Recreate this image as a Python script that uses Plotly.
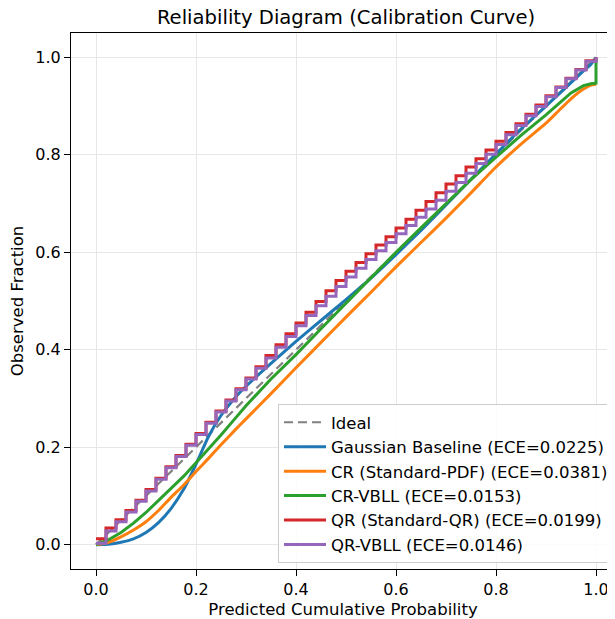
import plotly.graph_objects as go

# ---------------- data ----------------
ideal_x = [0.0, 1.0]
ideal_y = [0.0, 1.0]

smooth_p = [0.0, 0.025, 0.05, 0.075, 0.1, 0.125, 0.15, 0.175, 0.2, 0.225, 0.25, 0.275, 0.3,
            0.35, 0.4, 0.45, 0.5, 0.55, 0.6, 0.65, 0.7, 0.75, 0.8, 0.85, 0.9, 0.925, 0.95,
            0.975, 0.99, 1.0]

gauss_y = [0.0, 0.001, 0.005, 0.012, 0.025, 0.045, 0.074, 0.113, 0.165, 0.222, 0.265, 0.298, 0.325,
           0.372, 0.417, 0.46, 0.503, 0.547, 0.595, 0.645, 0.697, 0.75, 0.802, 0.853, 0.9, 0.924, 0.948,
           0.972, 0.986, 1.0]

cr_pdf_y = [0.0, 0.005, 0.016, 0.03, 0.047, 0.07, 0.097, 0.122, 0.15, 0.177, 0.205, 0.232, 0.258,
            0.31, 0.363, 0.415, 0.467, 0.518, 0.57, 0.62, 0.67, 0.722, 0.775, 0.822, 0.865, 0.89, 0.915,
            0.935, 0.943, 0.945]

cr_vbll_p = [0.0, 0.025, 0.05, 0.075, 0.1, 0.125, 0.15, 0.175, 0.2, 0.225, 0.25, 0.275, 0.3,
             0.35, 0.4, 0.45, 0.5, 0.55, 0.6, 0.65, 0.7, 0.75, 0.8, 0.85, 0.9, 0.925, 0.95,
             0.975, 0.99, 1.0, 1.0]
cr_vbll_y = [0.0, 0.01, 0.025, 0.044, 0.066, 0.09, 0.115, 0.14, 0.168, 0.196, 0.225, 0.255, 0.285,
             0.34, 0.39, 0.443, 0.496, 0.548, 0.6, 0.65, 0.7, 0.749, 0.795, 0.84, 0.882, 0.905, 0.927,
             0.942, 0.946, 0.947, 1.0]

step_p = [round(0.02 * i, 2) for i in range(51)]

qr_std_y = [0.012, 0.034, 0.051, 0.070, 0.091, 0.113, 0.136, 0.160, 0.183, 0.206,
            0.228, 0.251, 0.274, 0.297, 0.320, 0.342, 0.365, 0.388, 0.410, 0.433,
            0.455, 0.477, 0.499, 0.521, 0.542, 0.561, 0.579, 0.597, 0.615, 0.632,
            0.650, 0.668, 0.686, 0.704, 0.722, 0.740, 0.757, 0.775, 0.792, 0.810,
            0.828, 0.846, 0.864, 0.883, 0.902, 0.921, 0.939, 0.957, 0.975, 0.993,
            1.000]

qr_vbll_y = [0.003, 0.028, 0.047, 0.067, 0.089, 0.110, 0.134, 0.158, 0.181, 0.204,
             0.226, 0.249, 0.272, 0.295, 0.318, 0.340, 0.362, 0.383, 0.405, 0.427,
             0.449, 0.470, 0.490, 0.510, 0.530, 0.549, 0.567, 0.585, 0.603, 0.620,
             0.638, 0.655, 0.672, 0.689, 0.707, 0.725, 0.743, 0.762, 0.782, 0.801,
             0.821, 0.841, 0.860, 0.880, 0.899, 0.919, 0.938, 0.956, 0.974, 0.992,
             1.000]

names = ["Ideal",
         "Gaussian Baseline (ECE=0.0225)",
         "CR (Standard-PDF) (ECE=0.0381)",
         "CR-VBLL (ECE=0.0153)",
         "QR (Standard-QR) (ECE=0.0199)",
         "QR-VBLL (ECE=0.0146)"]
colors = ["#808080", "#1f77b4", "#ff7f0e", "#2ca02c", "#d62728", "#9467bd"]

x_ticks = [0.0, 0.2, 0.4, 0.6, 0.8, 1.0]
y_ticks = [0.0, 0.2, 0.4, 0.6, 0.8, 1.0]

# ---------------- figure ----------------
fig = go.Figure()
fig.add_trace(go.Scatter(x=ideal_x, y=ideal_y, mode="lines", name=names[0],
                         line=dict(color=colors[0], width=2.2, dash="9px,5px")))
fig.add_trace(go.Scatter(x=smooth_p, y=gauss_y, mode="lines", name=names[1],
                         line=dict(color=colors[1], width=3, shape="spline", smoothing=0.6)))
fig.add_trace(go.Scatter(x=smooth_p, y=cr_pdf_y, mode="lines", name=names[2],
                         line=dict(color=colors[2], width=3, shape="spline", smoothing=0.6)))
fig.add_trace(go.Scatter(x=cr_vbll_p, y=cr_vbll_y, mode="lines", name=names[3],
                         line=dict(color=colors[3], width=3)))
fig.add_trace(go.Scatter(x=step_p, y=qr_std_y, mode="lines", name=names[4],
                         line=dict(color=colors[4], width=3, shape="hv")))
fig.add_trace(go.Scatter(x=step_p, y=qr_vbll_y, mode="lines", name=names[5],
                         line=dict(color=colors[5], width=3, shape="hv")))

# the page body has an 8px margin; size the figure to fit the 615x619 window
OFF = 8
W, H = 615 - OFF, 619 - OFF
L, R, T, B = 71 - OFF, 0, 33 - OFF, 50

fig.update_layout(
    width=W, height=H,
    margin=dict(l=L, r=R, t=T, b=B, autoexpand=False),
    paper_bgcolor="white", plot_bgcolor="white",
    font=dict(family="DejaVu Sans", size=16.5, color="black"),
    title=dict(text="Reliability Diagram (Calibration Curve)",
               x=(346 - OFF) / W, xref="container", xanchor="center",
               y=1 - (17 - OFF) / H, yref="container", yanchor="middle",
               font=dict(size=19.6, color="black")),
    showlegend=True,
    legend=dict(x=(614 - 71) / 544, y=(569 - 563) / 536, xanchor="right", yanchor="bottom",
                bgcolor="rgba(255,255,255,0.85)", bordercolor="#cccccc", borderwidth=1,
                font=dict(size=16.5), itemwidth=42, tracegroupgap=0),
)
fig.update_xaxes(range=[-0.05, 1.038], tickvals=x_ticks, tickformat=".1f",
                 showgrid=True, gridcolor="#e7e7e7", gridwidth=1, zeroline=False,
                 showline=True, linecolor="black", linewidth=1, mirror=True,
                 ticks="outside", ticklen=6, tickcolor="black", tickwidth=1,
                 tickfont=dict(size=16),
                 title=dict(text="Predicted Cumulative Probability", font=dict(size=16.5), standoff=5))
fig.update_yaxes(range=[-0.05, 1.05], tickvals=y_ticks, tickformat=".1f",
                 showgrid=True, gridcolor="#e7e7e7", gridwidth=1, zeroline=False,
                 showline=True, linecolor="black", linewidth=1, mirror=False,
                 ticks="outside", ticklen=6, tickcolor="black", tickwidth=1,
                 tickfont=dict(size=16),
                 title=dict(text="Observed Fraction", font=dict(size=16.5), standoff=8))

fig.write_html("out.html")
